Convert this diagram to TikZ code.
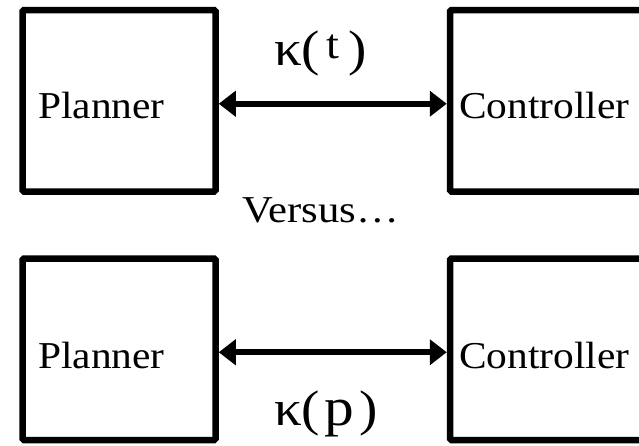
\documentclass[tikz,border=0pt]{standalone}
\usepackage{fontspec}
\setmainfont{Liberation Serif}
\usetikzlibrary{arrows.meta}
\tikzset{
  box/.style={draw=black, line width=6.5pt, rounded corners=1.5pt, minimum width=193pt, minimum height=181.5pt, inner sep=0pt},
  lbl/.style={anchor=base west, inner sep=0pt, font=\fontsize{38}{38}\selectfont, xscale=1.09},
  kap/.style={anchor=base west, inner sep=0pt, font=\fontsize{50}{50}\selectfont, xscale=1.1},
  arr/.style={line width=6pt, {Triangle[length=17pt,width=25pt]}-{Triangle[length=17pt,width=25pt]}}
}
\begin{document}
\begin{tikzpicture}[x=1pt,y=-1pt]
\useasboundingbox (0,0) rectangle (639,445);
\clip (0,0) rectangle (639,445);
\fill[white] (0,0) rectangle (639,445);
% top row
\node[box] (tl) at (119,100.75) {};
\node[box] (tr) at (546.5,100.75) {};
\node[lbl] (tlt) at (38,118) {Planner};
\node[lbl] (trt) at (459,118) {Controller};
\draw[arr] ([yshift=-3pt]tl.east) -- ([yshift=-3pt]tr.west);
\node[kap] (kt) at (274,65) {κ(\kern6pt\raisebox{7pt}{\fontsize{42}{42}\selectfont t}\kern8pt)};
% versus
\node[lbl, xscale=1.03] (vs) at (242,222) {Versus…};
% bottom row
\node[box] (bl) at (119,349.25) {};
\node[box] (br) at (546.5,349.25) {};
\node[lbl] (blt) at (38,368) {Planner};
\node[lbl] (brt) at (459,368) {Controller};
\draw[arr] ([yshift=-3pt]bl.east) -- ([yshift=-3pt]br.west);
\node[kap] (kp) at (274,425) {κ(\kern4pt{\fontsize{54}{54}\selectfont p}\kern5pt)};
\end{tikzpicture}
\end{document}
